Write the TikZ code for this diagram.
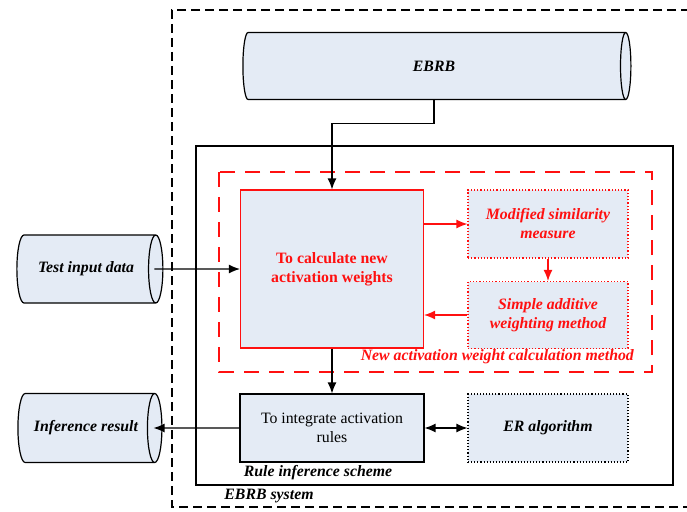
\documentclass[tikz,border=0pt]{standalone}
\usepackage{fontspec}
\setmainfont{Liberation Serif}
\usetikzlibrary{shapes.geometric,arrows.meta}
\definecolor{boxfill}{HTML}{E4EBF5}
\definecolor{redline}{HTML}{FF1010}
\newcommand{\figfont}{\fontsize{15.8}{19}\selectfont}
\tikzset{
  datacyl/.style={cylinder, draw, line width=1.2pt, fill=boxfill, aspect=1.0,
    inner sep=0pt, font=\figfont\bfseries\itshape},
  calcbox/.style={draw=redline, line width=1.2pt, fill=boxfill, text=redline,
    font=\figfont\bfseries, align=center, inner sep=0pt},
  redsub/.style={draw=redline, line width=1.2pt, dotted, fill=boxfill, text=redline,
    font=\figfont\bfseries\itshape, align=center, inner sep=0pt},
  blackbox/.style={draw, line width=1.1pt, fill=boxfill, align=center, inner sep=0pt,
    font=\figfont},
  grouplabel/.style={font=\figfont\bfseries\itshape, inner sep=0pt}
}
\begin{document}
\begin{tikzpicture}[x=1pt, y=-1pt, >={Latex[length=11pt,width=9pt]}]
  \useasboundingbox (0,0) rectangle (687,511);

  % Frames
  \draw[line width=1.2pt, dash pattern=on 9pt off 5pt] (690,10) -- (172,10) -- (172,507) -- (690,507);
  \draw[line width=1.2pt] (196,146) rectangle (673,485);
  \draw[redline, line width=1.2pt, dash pattern=on 15pt off 10pt] (219,172) rectangle (652,372);

  % Data stores
  \node[datacyl, minimum height=388pt, minimum width=67pt] (ebrb) at (434,66) {EBRB};
  \node[datacyl, minimum height=146pt, minimum width=68pt] (test) at (86,269) {Test input data};
  \node[datacyl, minimum height=144pt, minimum width=69pt] (infer) at (86,428) {Inference result};

  % Activation weights
  \node[calcbox, minimum width=183pt, minimum height=158pt] (calc) at (332,269)
    {To calculate new\\activation weights};
  \node[redsub, minimum width=160pt, minimum height=68pt] (simil) at (548,224)
    {Modified similarity\\measure};
  \node[redsub, minimum width=160pt, minimum height=67pt] (saw) at (548,315)
    {Simple additive\\weighting method};
  \node[grouplabel, text=redline, anchor=east] (nawlabel) at (634,357)
    {New activation weight calculation method};

  % Rule inference
  \node[blackbox, minimum width=184pt, minimum height=68pt] (integ) at (332,428)
    {To integrate activation\\rules};
  \node[blackbox, dotted, font=\figfont\bfseries\itshape, minimum width=160pt, minimum height=68pt] (er) at (548,428)
    {ER algorithm};
  \node[grouplabel] (rislabel) at (318,473) {Rule inference scheme};
  \node[grouplabel] (syslabel) at (269,496) {EBRB system};

  % Connectors
  \draw[->, line width=1.2pt] (ebrb.south) -- ++(0,23) -| (calc.north);
  \draw[->, line width=1.2pt] ([xshift=-9pt]test.east) -- (calc.west);
  \draw[->, redline, line width=1.2pt] ([yshift=45pt]calc.east) -- (simil.west);
  \draw[->, redline, line width=1.2pt] (simil.south) -- (saw.north);
  \draw[->, redline, line width=1.2pt] (saw.west) -- ([yshift=-46pt]calc.east);
  \draw[->, line width=1.2pt] (calc.south) -- (integ.north);
  \draw[<->, line width=1.2pt] (integ.east) -- (er.west);
  \draw[->, line width=1.2pt] (integ.west) -- ([xshift=-9pt]infer.east);
\end{tikzpicture}
\end{document}
